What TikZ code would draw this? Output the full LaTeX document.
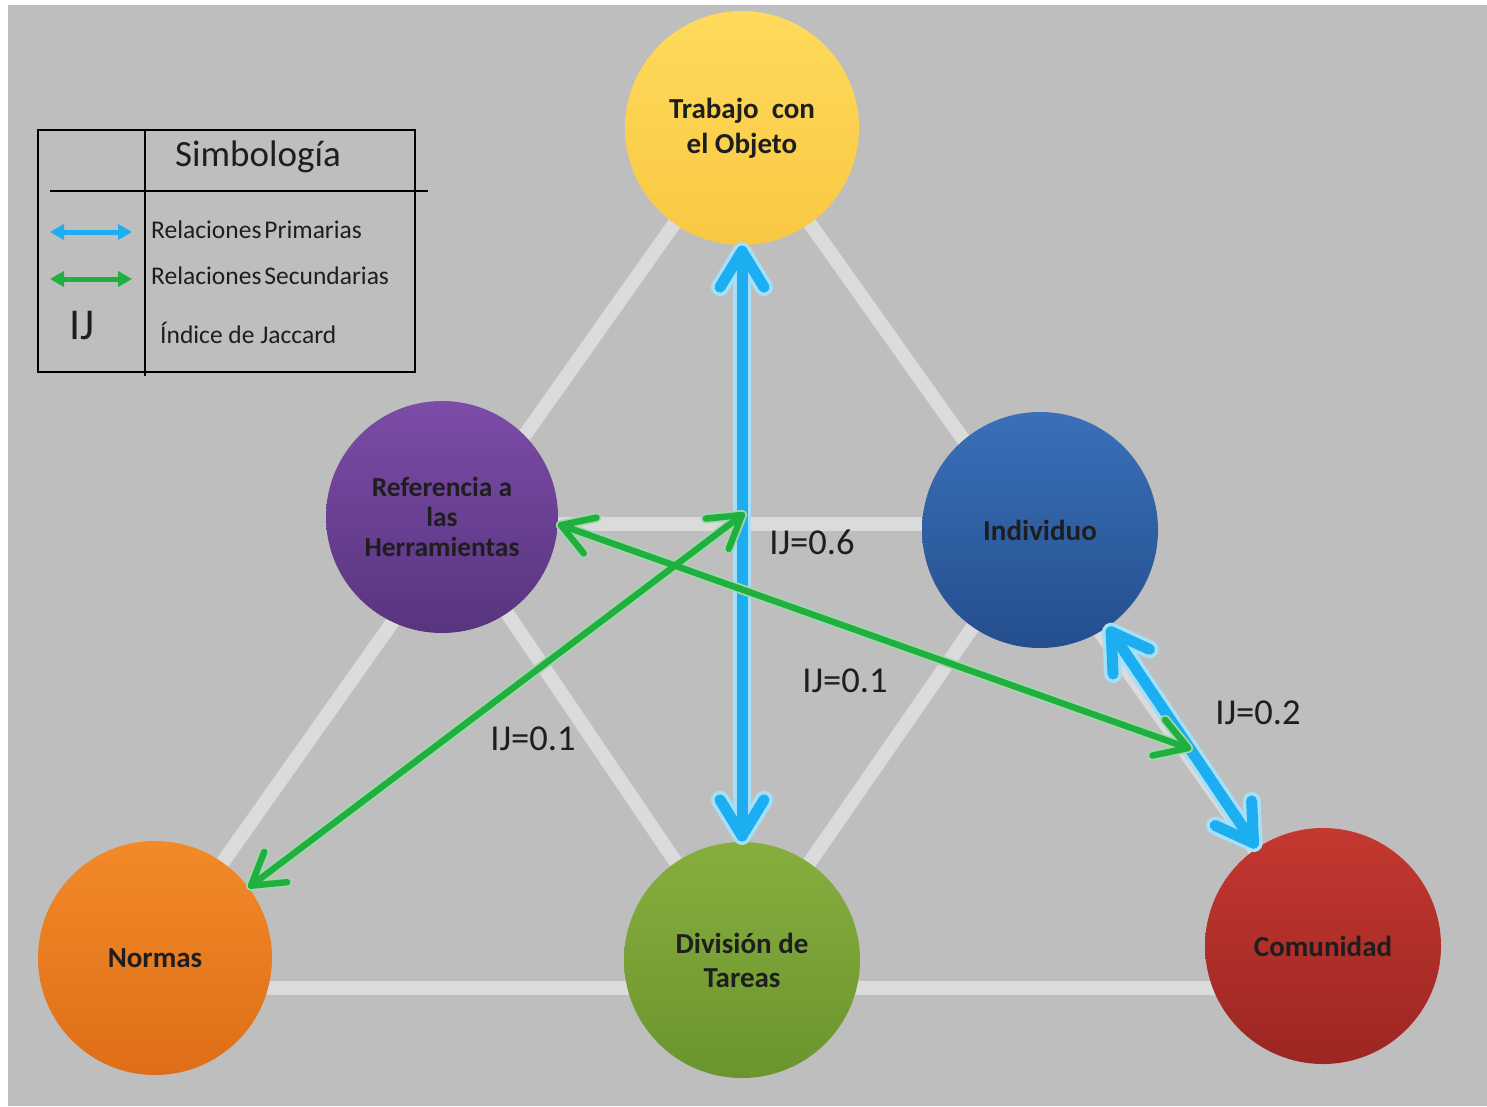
\documentclass[tikz,border=0pt]{standalone}
\usepackage{fontspec}
\setmainfont{Carlito}
\usetikzlibrary{arrows.meta,calc}
\definecolor{bg}{HTML}{BEBEBE}
\definecolor{tri}{HTML}{DBDBDB}
\definecolor{prim}{HTML}{1CAEF0}
\definecolor{glow}{HTML}{A6E0F8}
\definecolor{sec}{HTML}{1FB040}
\definecolor{secglow}{HTML}{A4D8AC}
\definecolor{txt}{HTML}{1E1E1E}
\tikzset{
  act/.style={circle, inner sep=0pt, minimum size=234pt, align=center, text=txt,
    font=\fontsize{29}{35}\selectfont\bfseries},
  triline/.style={draw=tri, line width=14pt},
  primglow/.style={draw=glow, line width=18pt, line cap=round, line join=round},
  primarrow/.style={draw=prim, line width=11pt, line cap=round, line join=round},
  secglow/.style={draw=secglow, line width=10pt, line cap=round, line join=round},
  secarrow/.style={draw=sec, line width=6.5pt, line cap=round, line join=round},
  ijlabel/.style={font=\fontsize{36.5}{40}\selectfont, text=txt, inner sep=0pt},
  legtext/.style={font=\fontsize{25.5}{28}\selectfont, text=txt, anchor=west, inner sep=0pt},
}
% double-headed arrow with chevron heads: #1 style, #2 first end, #3 second end, #4 head length, #5 head half width
\newcommand\mydarrow[5]{%
  \draw[#1] (#2) -- (#3);
  \draw[#1] ($(#2)!#4!(#3)!#5!90:(#2)$) -- (#2) -- ($(#2)!#4!(#3)!#5!-90:(#2)$);
  \draw[#1] ($(#3)!#4!(#2)!#5!90:(#3)$) -- (#3) -- ($(#3)!#4!(#2)!#5!-90:(#3)$);
}
\begin{document}
\begin{tikzpicture}[x=1pt,y=-1pt]
\useasboundingbox (0,0) rectangle (1487,1106);
\fill[bg] (8,5) rectangle (1487,1106);

% centres of the circles
\coordinate (ct) at (742,128);
\coordinate (cr) at (442,517);
\coordinate (ci) at (1040,530);
\coordinate (cn) at (155,958);
\coordinate (cd) at (742,960);
\coordinate (cc) at (1323,946);

% triangle lines (behind the circles)
\draw[triline] (ct) -- (cn);
\draw[triline] (ct) -- (cc);
\draw[triline] (cr) -- (cd) -- (ci);
\draw[triline] (cr |- 0,524) -- (ci |- 0,524);
\draw[triline] (cn |- 0,988) -- (cc |- 0,988);

% circles
\node[act, shade, top color={rgb,255:red,255;green,218;blue,92}, bottom color={rgb,255:red,248;green,200;blue,66}] (t) at (ct) {Trabajo\ \ con\\el Objeto};
\node[act, minimum size=232pt, font=\fontsize{27.5}{30}\selectfont\bfseries, shade, top color={rgb,255:red,124;green,76;blue,168}, bottom color={rgb,255:red,88;green,52;blue,126}] (r) at (cr) {Referencia a\\las\\Herramientas};
\node[act, minimum size=236pt, shade, top color={rgb,255:red,58;green,112;blue,184}, bottom color={rgb,255:red,36;green,78;blue,142}] (i) at (ci) {Individuo};
\node[act, shade, top color={rgb,255:red,242;green,138;blue,40}, bottom color={rgb,255:red,222;green,110;blue,24}] (n) at (cn) {Normas};
\node[act, minimum size=236pt, font=\fontsize{29}{34}\selectfont\bfseries, shade, top color={rgb,255:red,134;green,174;blue,62}, bottom color={rgb,255:red,108;green,148;blue,46}] (d) at (cd) {División de\\Tareas};
\node[act, minimum size=236pt, shade, top color={rgb,255:red,196;green,56;blue,48}, bottom color={rgb,255:red,156;green,38;blue,34}] (c) at (cc) {Comunidad};

% end points of the connectors on the circles
\coordinate (pt) at ($(t.south)+(0,6)$);
\coordinate (pd) at ($(d.north)+(0,-6)$);
\coordinate (pi) at ($(i.-55.8)!6pt!(c)$);
\coordinate (pc) at ($(c.124.2)!6pt!(i)$);
\coordinate (pr) at ($(r.-4)+(3,0)$);
\coordinate (pn) at ($(n.37)!3pt!(742,515)$);
\coordinate (g1e) at (1188,748);
\coordinate (g2s) at (742,515);

% primary relations
\mydarrow{primglow}{pt}{pd}{36pt}{22pt}
\mydarrow{primglow}{pi}{pc}{36pt}{22pt}
\mydarrow{primarrow}{pt}{pd}{36pt}{22pt}
\mydarrow{primarrow}{pi}{pc}{36pt}{22pt}

% secondary relations
\mydarrow{secglow}{pr}{g1e}{31pt}{19pt}
\mydarrow{secglow}{g2s}{pn}{31pt}{19pt}
\mydarrow{secarrow}{pr}{g1e}{31pt}{19pt}
\mydarrow{secarrow}{g2s}{pn}{31pt}{19pt}

% Jaccard labels
\node[ijlabel] (l1) at (812,542) {IJ=0.6};
\node[ijlabel] (l2) at (845,681) {IJ=0.1};
\node[ijlabel] (l3) at (533,739) {IJ=0.1};
\node[ijlabel] (l4) at (1258,713) {IJ=0.2};

% legend
\draw[line width=1.6pt, black] (38,130) rectangle (415,372);
\draw[line width=1.6pt, black] (145,130) -- (145,376);
\draw[line width=1.6pt, black] (50,191) -- (428,191);
\node[font=\fontsize{37}{40}\selectfont, text=txt, inner sep=0pt] (sim) at (258,157) {Simbología};
\coordinate (lp1) at (50,232);
\coordinate (lp2) at (132,232);
\coordinate (ls1) at (50,279);
\coordinate (ls2) at (132,279);
\draw[draw=prim, line width=5pt, {Triangle[length=14pt,width=15pt]}-{Triangle[length=14pt,width=15pt]}] (lp1) -- (lp2);
\draw[draw=sec, line width=5pt, {Triangle[length=14pt,width=15pt]}-{Triangle[length=14pt,width=15pt]}] (ls1) -- (ls2);
\node[legtext] (tp) at (151,230) {Relaciones\kern3pt Primarias};
\node[legtext] (ts) at (151,276) {Relaciones\kern3pt Secundarias};
\node[font=\fontsize{44}{48}\selectfont, text=txt, inner sep=0pt] (ij) at (82,326) {IJ};
\node[legtext] (tj) at (160,333) {Índice de Jaccard};
\end{tikzpicture}
\end{document}
